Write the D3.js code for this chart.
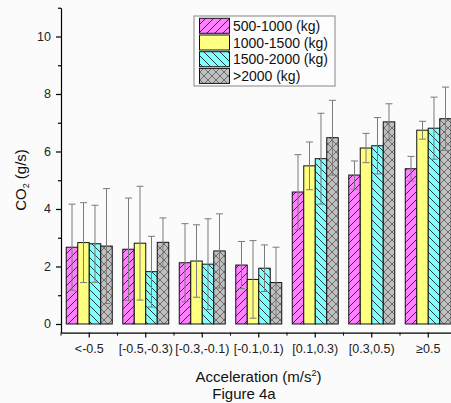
<!DOCTYPE html>
<html><head><meta charset="utf-8">
<script src="https://cdn.jsdelivr.net/npm/d3@7"></script>
<style>body{margin:0;background:#fbfbfb;}svg{display:block;font-family:"Liberation Sans",Arial,sans-serif;}</style>
</head><body><svg id="c" width="451" height="403"></svg>
<script>
const categories = ["<-0.5","[-0.5,-0.3)","[-0.3,-0.1)","[-0.1,0.1)","[0.1,0.3)","[0.3,0.5)","≥0.5"];
const series = ["500-1000 (kg)","1000-1500 (kg)","1500-2000 (kg)",">2000 (kg)"];
const means500  = [2.67,2.60,2.13,2.05,4.59,5.18,5.40];
const means1000 = [2.83,2.81,2.19,1.55,5.50,6.12,6.74];
const means1500 = [2.79,1.82,2.08,1.94,5.75,6.20,6.81];
const means2000 = [2.71,2.84,2.54,1.44,6.48,7.03,7.14];
const err500  = [1.50,1.78,1.36,0.82,1.30,0.49,0.43];
const err1000 = [1.39,1.98,1.26,1.35,0.83,0.51,0.31];
const err1500 = [1.34,1.23,1.58,0.81,1.58,0.98,1.08];
const err2000 = [2.00,0.85,1.29,1.23,1.30,0.63,1.10];
const yTicks = [0,2,4,6,8,10];
const yMinor = [1,3,5,7,9,11];

const means = [means500,means1000,means1500,means2000];
const errs = [err500,err1000,err1500,err2000];
const fills = ["#ff80ff","#ffff80","#80ffff","#c0c0c0"];

const svg = d3.select("#c");
svg.append("rect").attr("width",451).attr("height",403).attr("fill","#fbfbfb");

// patterns
const defs = svg.append("defs");
function pat(id, bg, draw){
  const p = defs.append("pattern").attr("id",id).attr("patternUnits","userSpaceOnUse")
    .attr("width",8).attr("height",8);
  p.append("rect").attr("width",8).attr("height",8).attr("fill",bg);
  draw(p);
}
pat("p0", fills[0], p=>{
  p.append("path").attr("d","M0,8 L8,0 M-2,2 L2,-2 M6,10 L10,6").attr("stroke","#222").attr("stroke-width",0.9);
});
pat("p1", fills[1], p=>{
  p.append("circle").attr("cx",2).attr("cy",2).attr("r",0.5).attr("fill","#e6e690");
  p.append("circle").attr("cx",6).attr("cy",6).attr("r",0.5).attr("fill","#e6e690");
});
pat("p2", fills[2], p=>{
  p.append("path").attr("d","M0,0 L8,8 M-2,6 L2,10 M6,-2 L10,2").attr("stroke","#222").attr("stroke-width",0.9);
});
pat("p3", fills[3], p=>{
  p.append("path").attr("d","M0,0 L8,8 M-2,6 L2,10 M6,-2 L10,2 M0,8 L8,0 M-2,2 L2,-2 M6,10 L10,6").attr("stroke","#555").attr("stroke-width",0.8);
});

const x0 = d3.scaleBand().domain(categories).range([61,456.5]).paddingInner(0.186).paddingOuter(0.093);
const x1 = d3.scaleBand().domain(series).range([0,x0.bandwidth()]);
const y = d3.scaleLinear().domain([-0.3,11]).range([332.6,7.75]);

// bars
series.forEach((s,si)=>{
  svg.append("g").selectAll("rect").data(categories).join("rect")
    .attr("x",(c)=>x0(c)+x1(s))
    .attr("y",(c,i)=>y(means[si][i]))
    .attr("width",x1.bandwidth())
    .attr("height",(c,i)=>y(0)-y(means[si][i]))
    .attr("fill",`url(#p${si})`)
    .attr("stroke","#111").attr("stroke-width",1);
});
// error bars
series.forEach((s,si)=>{
  const g = svg.append("g").attr("stroke","#7a7a7a").attr("stroke-width",1);
  categories.forEach((c,i)=>{
    const cx = x0(c)+x1(s)+x1.bandwidth()/2;
    const hi = y(means[si][i]+errs[si][i]), lo = y(means[si][i]-errs[si][i]);
    g.append("line").attr("x1",cx).attr("x2",cx).attr("y1",hi).attr("y2",lo);
    g.append("line").attr("x1",cx-3.5).attr("x2",cx+3.5).attr("y1",hi).attr("y2",hi);
    g.append("line").attr("x1",cx-3.5).attr("x2",cx+3.5).attr("y1",lo).attr("y2",lo);
  });
});

// y axis
const yAxis = svg.append("g").attr("transform","translate(61,0)")
  .call(d3.axisLeft(y).tickValues(yTicks).tickSize(5).tickSizeOuter(0).tickPadding(5));
svg.append("g").attr("transform","translate(61,0)")
  .call(d3.axisLeft(y).tickValues(yMinor).tickSize(3).tickFormat("").tickSizeOuter(0))
  .select(".domain").remove();
yAxis.selectAll("text").attr("font-size",12.5).attr("fill","#222").attr("font-family","Liberation Sans, Arial, sans-serif");

// x axis
const xAxis = svg.append("g").attr("transform",`translate(0,${y(-0.3)})`)
  .call(d3.axisBottom(x0).tickSize(5).tickSizeOuter(0));
xAxis.selectAll("text").attr("font-size",12.5).attr("fill","#222").attr("y",12)
  .attr("font-family","Liberation Sans, Arial, sans-serif");
const bounds = categories.map(c=>x0(c)-x0.step()*x0.paddingInner()/2);
svg.append("g").selectAll("line").data(bounds).join("line")
  .attr("x1",d=>d).attr("x2",d=>d).attr("y1",y(-0.3)).attr("y2",y(-0.3)+3)
  .attr("stroke","#000");
svg.selectAll(".domain, .tick line").attr("stroke","#000").attr("stroke-width",1.2);

// axis titles
const yt = svg.append("text").attr("transform","translate(26,180) rotate(-90)")
  .attr("text-anchor","middle").attr("font-size",15).attr("fill","#111");
yt.append("tspan").text("CO");
yt.append("tspan").attr("font-size",9).attr("dy",3).text("2");
yt.append("tspan").attr("dy",-3).text(" (g/s)");

const xt = svg.append("text").attr("x",258.5).attr("y",382).attr("text-anchor","middle")
  .attr("font-size",15).attr("fill","#111");
xt.append("tspan").text("Acceleration (m/s");
xt.append("tspan").attr("font-size",9).attr("dy",-6).text("2");
xt.append("tspan").attr("dy",6).text(")");
svg.append("text").attr("x",244).attr("y",399).attr("text-anchor","middle")
  .attr("font-size",15).attr("fill","#111").text("Figure 4a");

// legend
const lg = svg.append("g");
lg.append("rect").attr("x",194).attr("y",16).attr("width",141).attr("height",70)
  .attr("fill","#fdfdfd").attr("stroke","#999").attr("stroke-width",1.2);
series.forEach((s,i)=>{
  const yy = 18.3 + i*16.7;
  lg.append("rect").attr("x",199.5).attr("y",yy).attr("width",30).attr("height",15)
    .attr("fill",`url(#p${i})`).attr("stroke","#111");
  lg.append("text").attr("x",233).attr("y",yy+12.5).attr("font-size",14).attr("fill","#111").text(s);
});
</script></body></html>
